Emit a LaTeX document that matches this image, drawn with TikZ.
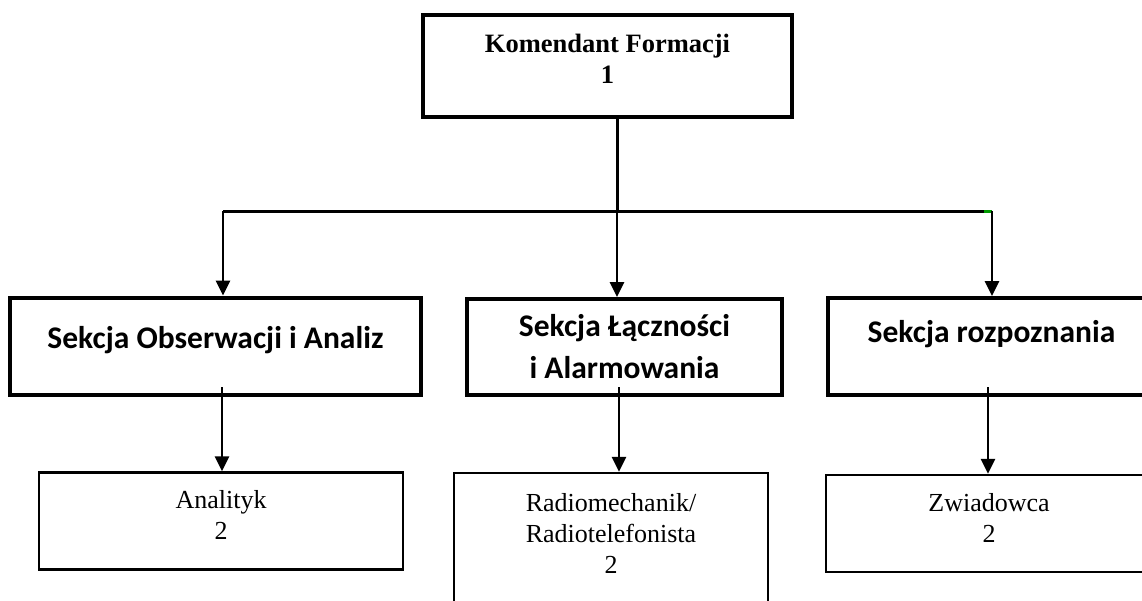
\documentclass[tikz,border=0pt]{standalone}
\usepackage{fontspec}
\setmainfont{Liberation Serif}
\newfontfamily\secfont{Carlito}
\usetikzlibrary{arrows.meta,calc}
\tikzset{
  topbox/.style={draw, line width=4pt, minimum width=369pt, minimum height=102pt,
    align=center, inner sep=0pt, font=\bfseries\fontsize{26.5}{31}\selectfont},
  secbox/.style={draw, line width=4pt, minimum height=97pt,
    align=center, inner sep=0pt, font=\secfont\bfseries\fontsize{31.5}{42}\selectfont},
  unitbox/.style={draw, line width=2.3pt, minimum height=97pt,
    align=center, inner sep=0pt, font=\fontsize{26}{31}\selectfont},
  busline/.style={line width=3pt},
  arr/.style={line width=2.7pt, -{Triangle[length=15pt,width=14pt]}}
}
\begin{document}
\begin{tikzpicture}[x=1pt, y=-1pt]
    \useasboundingbox (0,0) rectangle (1142,600);
    \clip (0,0) rectangle (1142,600);

    \node (kom) at (607.5,66) [topbox, text depth=15pt] {Komendant Formacji\\1};

    \node (soa) at (215.5,346) [secbox, minimum width=411pt, text height=22pt, text depth=18pt] {Sekcja Obserwacji i Analiz};
    \node (sla) at (624.5,347) [secbox, minimum width=315pt, minimum height=96pt] {Sekcja Łączności\\i Alarmowania};
    \node (sr) at (991.5,346.5) [secbox, minimum width=327pt, text height=22pt, text depth=31pt] {Sekcja rozpoznania};

    \node (an) at (221,521) [unitbox, minimum width=364pt, text depth=12pt] {Analityk\\2};
    \node (rr) at (611,542.5) [unitbox, minimum width=314pt, minimum height=139pt, text depth=18pt] {Radiomechanik/\\Radiotelefonista\\2};
    \node (zw) at (989,523.5) [unitbox, minimum width=326pt, text depth=11pt] {Zwiadowca\\2};

    \coordinate (bus left) at (223,211);
    \coordinate (bus mid) at (617,211);
    \coordinate (bus right) at (992,211);

    \draw[busline] (bus mid |- kom.south) -- (bus mid);
    \draw[busline] (bus left) -- (bus right);
    \draw[busline, green!60!black] ($(bus right)+(-8,0)$) -- (bus right);

    \draw[arr] (bus left) -- (bus left |- soa.north);
    \draw[arr] (bus mid) -- (bus mid |- sla.north);
    \draw[arr] (bus right) -- (bus right |- sr.north);

    \coordinate (soa out) at (222,387);
    \coordinate (sla out) at (619,387);
    \coordinate (sr out) at (988,387);

    \draw[arr] (soa out) -- (soa out |- an.north);
    \draw[arr] (sla out) -- (sla out |- rr.north);
    \draw[arr] (sr out) -- (sr out |- zw.north);
\end{tikzpicture}
\end{document}
